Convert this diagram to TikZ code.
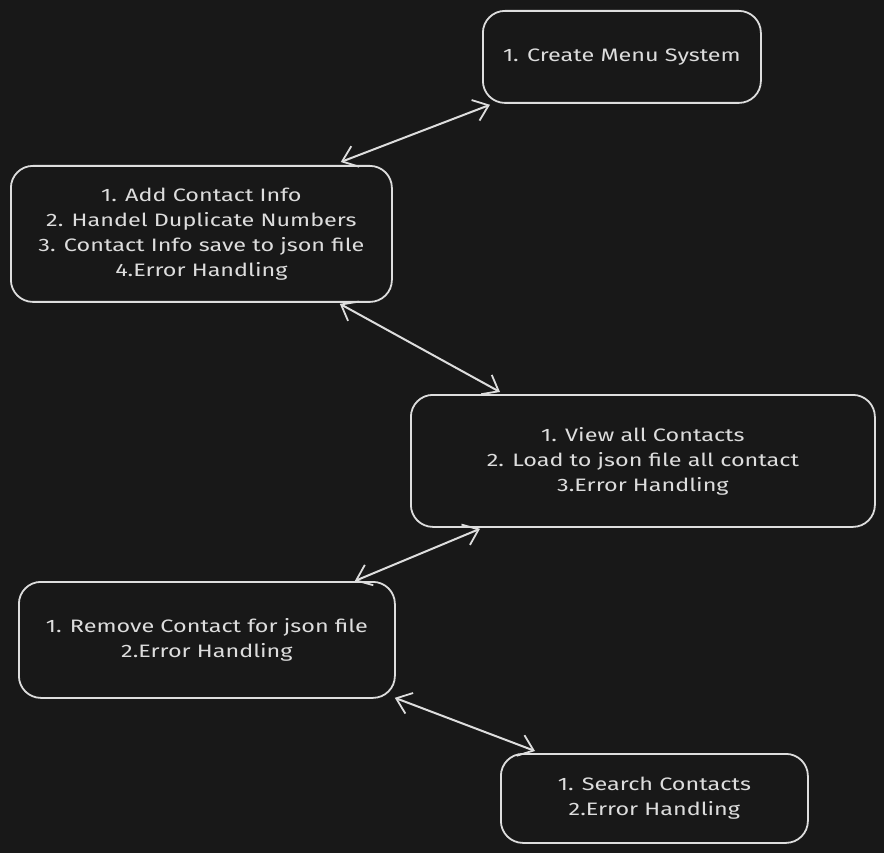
\documentclass[tikz,border=0pt]{standalone}
\usepackage{fontspec}
\setmainfont{Fira Sans}[FakeStretch=1.3]
\usetikzlibrary{arrows.meta,calc}
\definecolor{bgc}{HTML}{181818}
\definecolor{fg}{HTML}{DDDDDD}
\begin{document}
\begin{tikzpicture}[x=1pt,y=-1pt,
  box/.style={draw=fg,line width=1.8pt,rounded corners=22pt,inner sep=0pt,
    text=fg,align=center,font=\fontsize{18}{25}\selectfont,anchor=north west},
  link/.style={draw=fg,line width=2pt,{Straight Barb[length=14pt,width=22pt,line width=1.8pt]}-{Straight Barb[length=14pt,width=22pt,line width=1.8pt]}}]
\fill[bgc] (0,0) rectangle (884,853);
\useasboundingbox (0,0) rectangle (884,853);
\node[box,minimum width=278pt,minimum height=92pt] (menu) at (482,10) {1. Create Menu System};
\node[box,minimum width=381pt,minimum height=136pt] (add) at (10,165) {1. Add Contact Info\\2. Handel Duplicate Numbers\\3. Contact Info save to json file\\4.Error Handling};
\node[box,minimum width=464pt,minimum height=132pt] (view) at (410,394) {1. View all Contacts\\2. Load to json file all contact\\3.Error Handling};
\node[box,minimum width=376pt,minimum height=116pt] (remove) at (18,581) {1. Remove Contact for json file\\2.Error Handling};
\node[box,minimum width=307pt,minimum height=89pt] (search) at (500,753) {1. Search Contacts\\2.Error Handling};
\draw[link] ($(add.north east)+(-52,-3)$) -- ($(menu.south west)+(8,1)$);
\draw[link] ($(add.south east)+(-53,1)$) -- ($(view.north west)+(90,-2)$);
\draw[link] ($(view.south west)+(70,1)$) -- ($(remove.north east)+(-41,0)$);
\draw[link] ($(remove.south east)+(-1,-1)$) -- ($(search.north west)+(35,-2)$);
\end{tikzpicture}
\end{document}
